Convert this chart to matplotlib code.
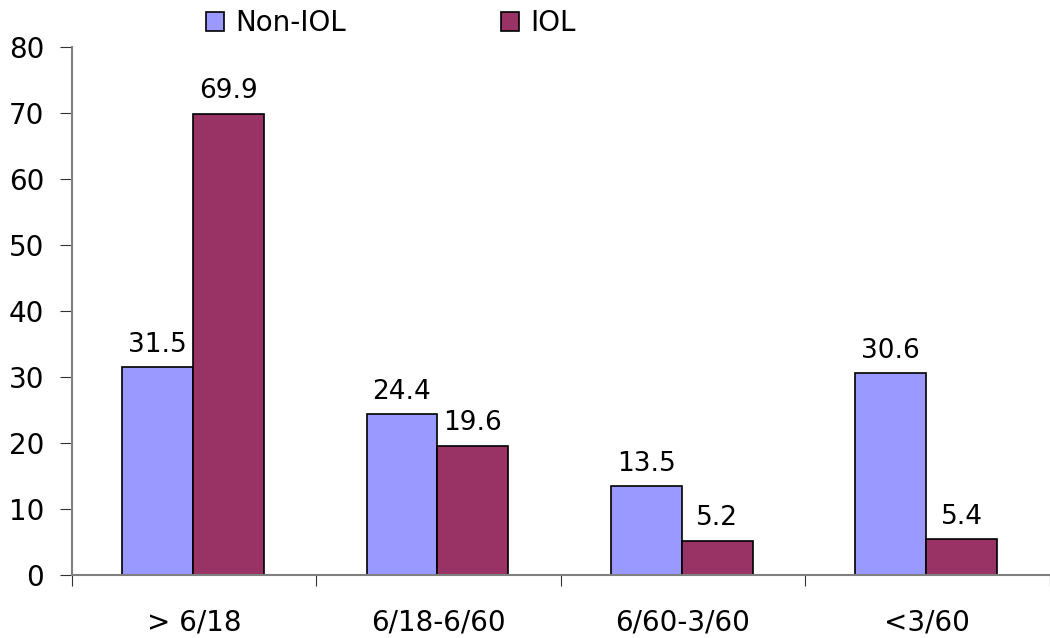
import matplotlib.pyplot as plt
import numpy as np

categories = ["> 6/18", "6/18-6/60", "6/60-3/60", "<3/60"]
non_iol = [31.5, 24.4, 13.5, 30.6]
iol = [69.9, 19.6, 5.2, 5.4]

fig = plt.figure(figsize=(10.5, 6.38), dpi=100)
ax = fig.add_axes([0.0686, 0.0987, 0.931, 0.8276])

x = np.arange(len(categories))
w = 0.29
b1 = ax.bar(x + 0.35, non_iol, w, color='#9999FF', edgecolor='black', linewidth=1.2, label='Non-IOL')
b2 = ax.bar(x + 0.64, iol, w, color='#993366', edgecolor='black', linewidth=1.2, label='IOL')

for bars, vals in [(b1, non_iol), (b2, iol)]:
    for r, v in zip(bars, vals):
        ax.text(r.get_x() + r.get_width() / 2, v + 1.4, f"{v}", ha='center', va='bottom', fontsize=19)

ax.set_xlim(0, 4)
ax.set_ylim(0, 80)
ax.set_yticks(range(0, 81, 10))
ax.set_xticks(range(0, 5))
ax.set_xticklabels([])
ax.set_xticks(x + 0.5, minor=True)
ax.set_xticklabels(categories, minor=True)
ax.tick_params(axis='x', which='minor', length=0, pad=24, labelsize=20)
ax.tick_params(axis='x', which='major', length=8, color='#333333')
ax.tick_params(axis='y', length=9, pad=11, labelsize=20, color='#333333')

for s in ['top', 'right']:
    ax.spines[s].set_visible(False)
for s in ['left', 'bottom']:
    ax.spines[s].set_color('#808080')
    ax.spines[s].set_linewidth(1.5)

fig.legend(loc='upper left', bbox_to_anchor=(0.1726, 1.025), ncol=2, frameon=False,
           fontsize=20, handlelength=0.65, handleheight=0.65, handletextpad=0.4,
           columnspacing=5.57)

fig.savefig('out.png', dpi=100)
